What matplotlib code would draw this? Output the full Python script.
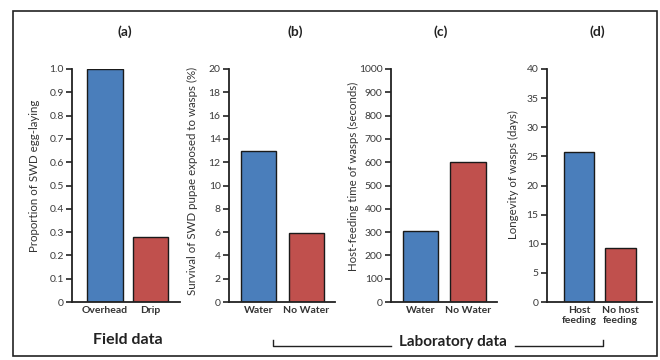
import matplotlib
matplotlib.use("Agg")
import matplotlib.pyplot as plt
from matplotlib.lines import Line2D
from matplotlib.patches import Rectangle

plt.rcParams['font.family'] = ['Lato', 'DejaVu Sans']

# Data
a_cats = ["Overhead", "Drip"]
a_vals = [1.0, 0.28]
b_cats = ["Water", "No Water"]
b_vals = [13.0, 5.9]
c_cats = ["Water", "No Water"]
c_vals = [305, 600]
d_cats = ["Host\nfeeding", "No host\nfeeding"]
d_vals = [25.8, 9.2]

titles = ["(a)", "(b)", "(c)", "(d)"]
ylabels = ["Proportion of SWD egg-laying",
           "Survival of SWD pupae exposed to wasps (%)",
           "Host-feeding time of wasps (seconds)",
           "Longevity of wasps (days)"]
a_ticks = [0, 0.1, 0.2, 0.3, 0.4, 0.5, 0.6, 0.7, 0.8, 0.9, 1.0]
a_ticklabels = ["0", "0.1", "0.2", "0.3", "0.4", "0.5", "0.6", "0.7", "0.8", "0.9", "1.0"]
b_ticks = list(range(0, 21, 2))
c_ticks = list(range(0, 1001, 100))
d_ticks = list(range(0, 41, 5))

BLUE = "#4a7ebb"
RED = "#c0504d"
W, H = 660, 360

fig = plt.figure(figsize=(6.6, 3.6), dpi=100)

def px_axes(x0, x1, ytop, ybot):
    return fig.add_axes([x0 / W, 1 - ybot / H, (x1 - x0) / W, (ybot - ytop) / H])

# border
fig.add_artist(Rectangle((13 / W, 1 - 356 / H), (657 - 13) / W, (356 - 11) / H,
                         transform=fig.transFigure, fill=False, edgecolor="#222222", lw=1.2))

panels = [
    (72, 180, a_cats, a_vals, a_ticks, a_ticklabels, (0, 1.0), 105, 45.5, 0.79),
    (229, 335, b_cats, b_vals, b_ticks, [str(t) for t in b_ticks], (0, 20), 258.5, 48, 0.73),
    (391, 497, c_cats, c_vals, c_ticks, [str(t) for t in c_ticks], (0, 1000), 420.5, 47.5, 0.75),
    (547, 652, d_cats, d_vals, d_ticks, [str(t) for t in d_ticks], (0, 40), 579, 41.5, 0.73),
]
title_x = [125, 295, 441, 597]
ylabel_x = [35, 192, 353, 513]
ylabel_y = [176, 181, 176, 175]

for i, (x0, x1, cats, vals, ticks, tlabels, ylim, c0, scale, bw) in enumerate(panels):
    ax = px_axes(x0, x1, 69, 302)
    ax.bar([0, 1], vals, width=bw, color=[BLUE, RED], edgecolor="#1a1a1a", linewidth=1.0)
    ax.set_xlim((x0 - c0) / scale, (x1 - c0) / scale)
    ax.set_ylim(*ylim)
    ax.set_yticks(ticks)
    ax.set_yticklabels(tlabels, fontsize=7.5, color="#3a3a3a")
    ax.set_xticks([0, 1])
    ax.set_xticklabels(cats, fontsize=7.5, fontweight="bold", color="#333333", linespacing=1.15)
    ax.tick_params(axis="x", length=0, pad=3)
    ax.tick_params(axis="y", length=4, width=1.2, color="#222222", pad=2)
    for s in ["top", "right"]:
        ax.spines[s].set_visible(False)
    for s in ["left", "bottom"]:
        ax.spines[s].set_linewidth(1.3)
        ax.spines[s].set_color("#222222")
    ax.patch.set_alpha(0)
    fig.text(title_x[i] / W, 1 - 32 / H, titles[i], ha="center", va="center",
             fontsize=10, fontweight="bold", color="#222222")
    fig.text(ylabel_x[i] / W, 1 - ylabel_y[i] / H, ylabels[i], ha="center", va="center",
             rotation=90, fontsize=8.3, color="#333333")

fig.text(128 / W, 1 - 340 / H, "Field data", ha="center", va="center",
         fontsize=11.5, fontweight="bold", color="#222222")
fig.text(453 / W, 1 - 342 / H, "Laboratory data", ha="center", va="center",
         fontsize=11, fontweight="bold", color="#222222")

yb = 1 - 346 / H
yt = 1 - 340 / H
for xs, ys in [([273, 273, 391], [yt, yb, yb]), ([515, 603, 603], [yb, yb, yt])]:
    fig.add_artist(Line2D([x / W for x in xs], ys, transform=fig.transFigure,
                          color="#222222", lw=1.0))

fig.savefig("out.png", dpi=100)
